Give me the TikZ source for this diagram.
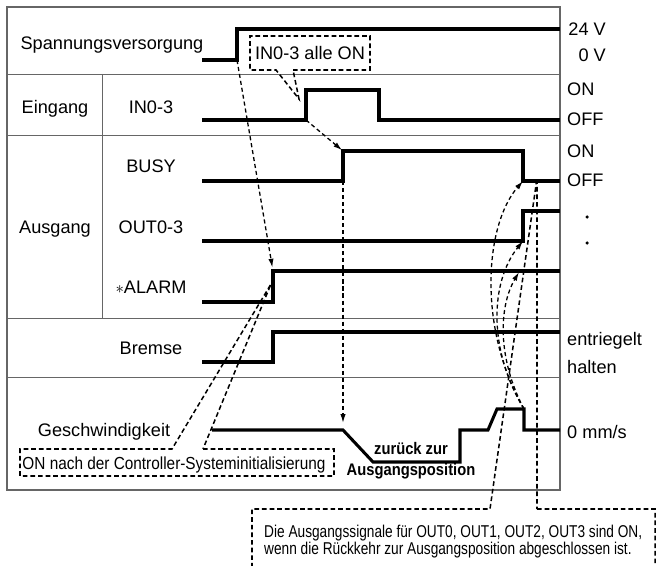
\documentclass[tikz,border=0pt]{standalone}
\usepackage{fontspec}
\setmainfont{Liberation Sans}
\newfontfamily\narrowfont{Liberation Sans}[FakeStretch=0.88]
\newfontfamily\notefont{Liberation Sans}[FakeStretch=0.8]
\usepackage{tikz}
\usetikzlibrary{arrows.meta}

\tikzset{
  signal/.style={line width=2.6pt, line join=miter},
  sep/.style={black!60, line width=0.8pt},
  dashline/.style={line width=1.1pt, dash pattern=on 3.5pt off 2.5pt},
  callout/.style={line width=1.3pt, dash pattern=on 4pt off 2.5pt},
  lbl/.style={font=\fontsize{15.5}{18}\selectfont, inner sep=0pt,
              text height=11pt, text depth=0pt},
  tip/.style={-{Latex[length=7.5pt,width=4.5pt]}},
}

\begin{document}
\begin{tikzpicture}[x=0.03cm, y=-0.03cm]
  \clip (0,0) rectangle (657,565);

  % ── Frame and row separators ──
  \draw[black!60, line width=0.9pt] (7,7) rectangle (560,490);
  \foreach \y in {74,135,318,377}{\draw[sep] (7,\y) -- (560,\y);}
  \draw[sep] (102,74) -- (102,318);

  % ── Row labels ──
  \node[lbl] (l-pwr)   at (112,43)  {Spannungsversorgung};
  \node[lbl] (l-in)    at (55,107)  {Eingang};
  \node[lbl] (l-out)   at (55,227)  {Ausgang};
  \foreach \n/\t/\y in {in0/IN0-3/107, busy/BUSY/166, out0/OUT0-3/227,
                        brake/Bremse/348}{
    \node[lbl] (s-\n) at (151,\y) {\t};
  }
  \node[lbl] (s-alarm) at (151,287) {{\fontsize{15}{15}\selectfont$\ast$}ALARM};
  \node[lbl] (s-speed) at (104,430) {Geschwindigkeit};

  % ── Signal traces ──
  \draw[signal] (202,60) -- (237,60) -- (237,29) -- (560,29);
  \draw[signal] (202,120) -- (306,120) -- (306,90) -- (379,90) -- (379,120) -- (560,120);
  \draw[signal] (202,181) -- (343,181) -- (343,151) -- (523,151) -- (523,181) -- (560,181);
  \draw[signal] (202,241) -- (523,241) -- (523,211) -- (560,211);
  \draw[signal] (202,302) -- (273,302) -- (273,271) -- (560,271);
  \draw[signal] (202,362) -- (273,362) -- (273,332) -- (560,332);
  \draw[signal] (212,430) -- (343,430) -- (373,462) -- (460,462) -- (460,430)
    -- (488,430) -- (497,409) -- (524,409) -- (524,430) -- (560,430);

  \coordinate (pwr-up)    at (237,60);
  \coordinate (in-up)     at (306,120);
  \coordinate (busy-up)   at (343,151);
  \coordinate (busy-lo)   at (343,181);
  \coordinate (busy-dn)   at (523,181);
  \coordinate (out-up)    at (523,241);
  \coordinate (alarm-up)  at (273,271);
  \coordinate (alarm-hi)  at (519,272);
  \coordinate (spd-start) at (343,430);
  \coordinate (spd-end)   at (524,409);

  % ── Right-hand levels ──
  \node[lbl, anchor=east] (r-24) at (606,29) {24 V};
  \node[lbl, anchor=east] (r-0)  at (606,55) {0 V};
  \foreach \t/\y in {ON/89, OFF/119, ON/151, OFF/180, entriegelt/339,
                     halten/367, {0 mm/s}/432}{
    \node[lbl, anchor=west] (r-\y) at (567,\y) {\t};
  }
  \fill (587,217) circle[radius=1.5pt];
  \fill (587,243) circle[radius=1.5pt];

  \node[font=\narrowfont\bfseries\fontsize{14.3}{18}\selectfont, align=center,
        inner sep=0pt] (home) at (411,461) {zurück zur\\Ausgangsposition};

  % ── Dependency arrows ──
  \draw[dashline, tip, shorten >=3pt] (pwr-up) -- (alarm-up);
  \draw[dashline, tip, shorten >=1pt] (in-up) -- (busy-up);
  \draw[dashline, tip, shorten >=6pt] (busy-lo) -- (spd-start);
  \draw[dashline, tip] (spd-end) .. controls (478,330) and (484,226) .. (busy-dn);
  \draw[dashline, tip] (spd-end) .. controls (488,350) and (490,282) .. (out-up);
  \draw[dashline, tip] (spd-end) .. controls (498,360) and (498,308) .. (alarm-hi);

  % ── Callouts ──
  \node[lbl] (allon) at (310,53) {IN0-3 alle ON};
  \coordinate (allon-tip) at (299,99);
  \draw[callout] (293,70) -- (370,70) -- (370,36) -- (250,36) -- (250,70)
    -- (276,70) -- (allon-tip) -- cycle;

  \node[lbl, font=\narrowfont\fontsize{14.9}{18}\selectfont] (init) at (174,463)
    {ON nach der Controller-Systeminitialisierung};
  \coordinate (init-tip) at (271,284);
  \draw[callout] (203,449) -- (334,449) -- (334,476) -- (20,476) -- (20,449)
    -- (172,449) -- (init-tip) -- cycle;

  \node[font=\notefont\fontsize{14.6}{14.5}\selectfont, align=left, anchor=west,
        inner sep=0pt] (note) at (264,542)
    {Die Ausgangssignale für OUT0, OUT1, OUT2, OUT3 sind ON,\\
     wenn die Rückkehr zur Ausgangsposition abgeschlossen ist.};
  \coordinate (note-tip) at (537,178);
  \draw[callout] (537,509) -- (655,509) -- (655,590) -- (252,590) -- (252,509)
    -- (490,509) -- (note-tip) -- cycle;
\end{tikzpicture}
\end{document}
